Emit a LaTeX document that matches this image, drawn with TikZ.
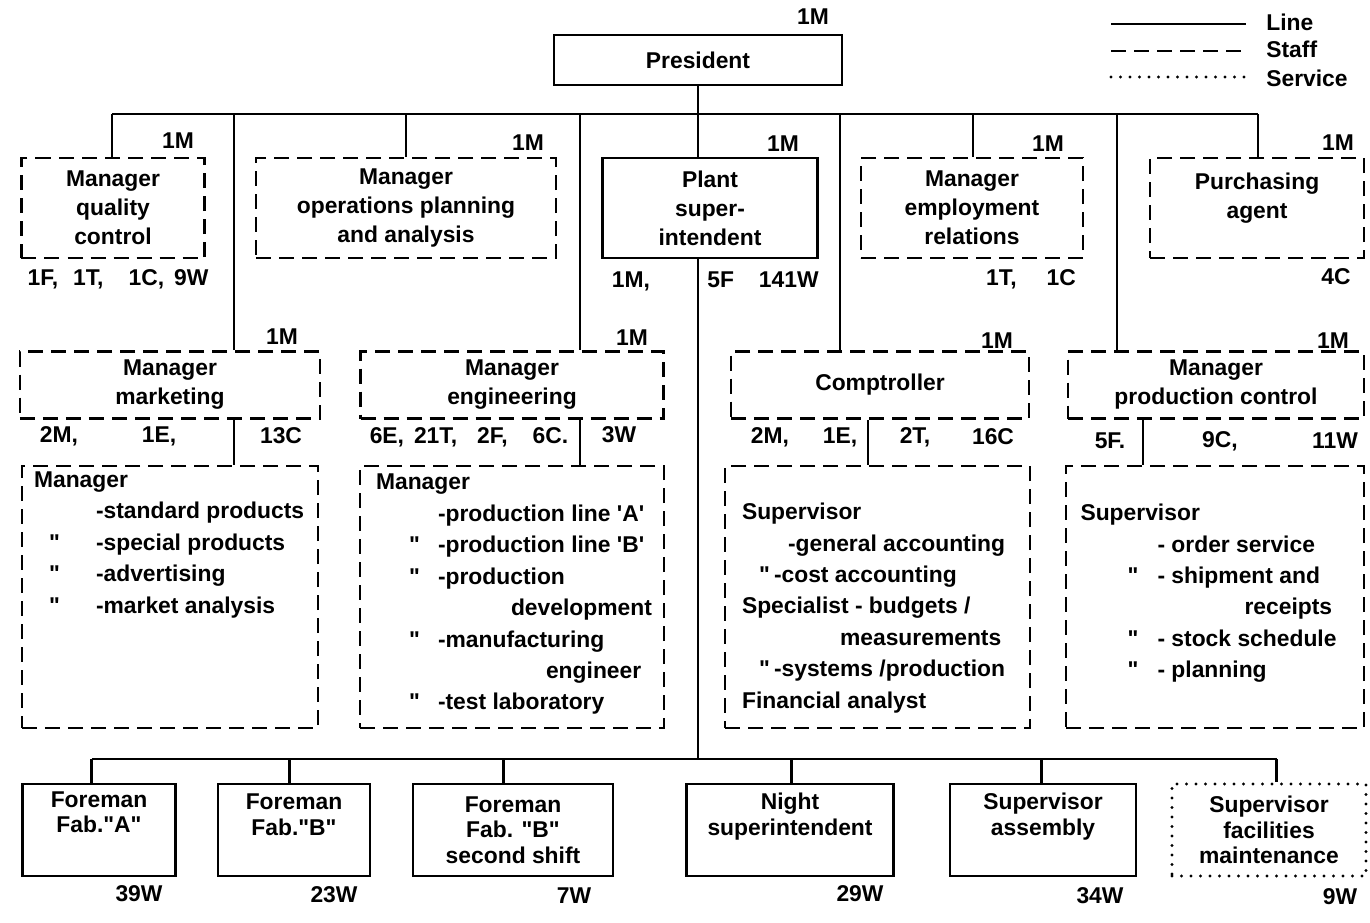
\documentclass[tikz,border=0pt]{standalone}
\usepackage{fontspec}
\setmainfont{Liberation Sans}
\usetikzlibrary{positioning}

% ditto marks in the lists, and box texts set higher than the middle
\newcommand{\dit}[2]{\hspace*{#1}\makebox[#2][l]{\textquotedbl}}
\newcommand{\lift}[2]{\raisebox{#1}[\height][\depth]{\begin{tabular}{@{}c@{}}#2\end{tabular}}}

\begin{document}
\begin{tikzpicture}[x=0.2mm, y=-0.2mm,
    every node/.style={font=\bfseries\fontsize{13}{16.5}\selectfont},
    staffdash/.style={dash pattern=on 3mm off 1.6mm},
    servicedots/.style={line width=1.9pt, line cap=round, dash pattern=on 0pt off 1.9mm},
    linebox/.style={draw, line width=1.5pt, align=center, inner sep=1pt},
    staffbox/.style={linebox, staffdash},
    rowone/.style={minimum height=20mm},
    rowtwo/.style={minimum height=13.4mm},
    listbox/.style={staffbox, minimum height=52.4mm},
    rowthree/.style={linebox, minimum height=18.4mm, font=\bfseries\fontsize{13}{14.5}\selectfont},
    listtext/.style={align=left, inner sep=0pt, font=\bfseries\fontsize{13}{17.9}\selectfont},
    num/.style={inner sep=0pt},
    conn/.style={line width=1.5pt}]

\path[use as bounding box, fill=white] (0,0) rectangle (1370,922);

% Legend
\node[num, anchor=west] (key-line) at (1266,22) {Line};
\node[num, anchor=west] (key-staff) at (1266,49) {Staff};
\node[num, anchor=west] (key-service) at (1266,78) {Service};
\coordinate (k1) at (1111,24);
\coordinate (k2) at (1111,51);
\coordinate (k3) at (1111,77);
\draw[conn, shorten >=4mm] (k1) -- (k1 -| key-line.west);
\draw[conn, staffdash, shorten >=4mm] (k2) -- (k2 -| key-staff.west);
\draw[conn, servicedots, shorten >=4mm] (k3) -- (k3 -| key-service.west);

% President
\node[linebox, minimum width=57.6mm, minimum height=10mm] (pres) at (698,60) {President};
\node[num] (pres-m) at (813,17) {1M};

% First row
\node[staffbox, rowone, minimum width=36.6mm] (qc) at (113,208) {Manager\\quality\\control};
\node[num] (qc-m) at (178,141) {1M};
\node[num] (qc-n) at (118,279) {1F,\hspace{3mm}1T,\hspace{5mm}1C,\hspace{2mm}9W};

\node[staffbox, rowone, minimum width=60mm] (ops) at (406,208) {Manager\\operations planning\\and analysis};
\node[num] (ops-m) at (528,143) {1M};

\node[linebox, rowone, minimum width=43mm] (plant) at (710,208) {Plant\\super-\\intendent};
\node[num] (plant-m) at (783,144) {1M};
\node[num] (plant-n1) at (631,281) {1M,};
\node[num] (plant-n2) at (763,280) {5F\hspace{5mm}141W};

\node[staffbox, rowone, minimum width=44.4mm] (emp) at (972,208) {Manager\\employment\\relations};
\node[num] (emp-m) at (1048,144) {1M};
\node[num] (emp-n) at (1031,279) {1T,\hspace{6mm}1C};

\node[staffbox, rowone, minimum width=42.8mm] (purch) at (1257,208) {\lift{2mm}{Purchasing\\agent}};
\node[num] (purch-m) at (1338,143) {1M};
\node[num] (purch-n) at (1336,277) {4C};

% Second row with their groups
\node[staffbox, rowtwo, minimum width=60mm] (mkt) at (170,385) {Manager\\marketing};
\node[num] (mkt-m) at (282,337) {1M};
\node[num] (mkt-n1) at (59,436) {2M,};
\node[num] (mkt-n2) at (159,436) {1E,};
\node[num] (mkt-n3) at (281,436) {13C};
\node[listbox, minimum width=59.2mm] (mktsub) at (170,597) {};
\node[listtext, below right=1.3mm and 2.6mm of mktsub.north west] (mkt-list) {%
  Manager\\
  \hspace*{12.4mm}-standard products\\
  \dit{3mm}{9.4mm}-special products\\
  \dit{3mm}{9.4mm}-advertising\\
  \dit{3mm}{9.4mm}-market analysis};

\node[staffbox, rowtwo, minimum width=60.6mm] (eng) at (512,385) {Manager\\engineering};
\node[num] (eng-m) at (632,338) {1M};
\node[num] (eng-n1) at (469,437) {6E,\hspace{2mm}21T,\hspace{4mm}2F,\hspace{5mm}6C.};
\node[num] (eng-n2) at (619,435) {3W};
\node[listbox, minimum width=60.8mm] (engsub) at (512,597) {};
\node[listtext, below right=1.8mm and 3.4mm of engsub.north west] (eng-list) {%
  Manager\\
  \hspace*{12.4mm}-production line \textquotesingle A\textquotesingle\\
  \dit{6.6mm}{5.8mm}-production line \textquotesingle B\textquotesingle\\
  \dit{6.6mm}{5.8mm}-production\\
  \hspace*{27mm}development\\
  \dit{6.6mm}{5.8mm}-manufacturing\\
  \hspace*{34mm}engineer\\
  \dit{6.6mm}{5.8mm}-test laboratory};

\node[staffbox, rowtwo, minimum width=59.6mm] (comp) at (880,385) {Comptroller};
\node[num] (comp-m) at (997,341) {1M};
\node[num] (comp-n1) at (770,437) {2M,};
\node[num] (comp-n2) at (840,437) {1E,};
\node[num] (comp-n3) at (915,437) {2T,};
\node[num] (comp-n4) at (993,437) {16C};
\node[listbox, minimum width=61mm] (compsub) at (877.5,597) {};
\node[listtext, below right=7.6mm and 3.6mm of compsub.north west] (comp-list) {%
  Supervisor\\
  \hspace*{9.2mm}-general accounting\\
  \dit{3.4mm}{3mm}-cost accounting\\
  Specialist - budgets /\\
  \hspace*{19.6mm}measurements\\
  \dit{3.4mm}{3mm}-systems /production\\
  Financial analyst};

\node[staffbox, rowtwo, minimum width=59.2mm] (pc) at (1216,385) {Manager\\production control};
\node[num] (pc-m) at (1333,341) {1M};
\node[num] (pc-n1) at (1110,441) {5F.};
\node[num] (pc-n2) at (1220,441) {9C,};
\node[num] (pc-n3) at (1335,441) {11W};
\node[listbox, minimum width=59.6mm] (pcsub) at (1215,597) {};
\node[listtext, below right=7.8mm and 3.1mm of pcsub.north west] (pc-list) {%
  Supervisor\\
  \hspace*{15.4mm}- order service\\
  \dit{9.4mm}{6mm}- shipment and\\
  \hspace*{32.8mm}receipts\\
  \dit{9.4mm}{6mm}- stock schedule\\
  \dit{9.4mm}{6mm}- planning};

% Bottom row
\node[rowthree, minimum width=30.6mm] (fa) at (99,830) {\lift{3mm}{Foreman\\Fab.\textquotedbl A\textquotedbl}};
\node[num] (fa-n) at (139,894) {39W};
\node[rowthree, minimum width=30.4mm] (fb) at (294,830) {\lift{2.5mm}{Foreman\\Fab.\textquotedbl B\textquotedbl}};
\node[num] (fb-n) at (334,895) {23W};
\node[rowthree, minimum width=40mm] (fb2) at (513,830) {Foreman\\Fab. \textquotedbl B\textquotedbl\\second shift};
\node[num] (fb2-n) at (574,896) {7W};
\node[rowthree, minimum width=41.4mm] (ns) at (790,830) {\lift{2.5mm}{Night\\superintendent}};
\node[num] (ns-n) at (860,894) {29W};
\node[rowthree, minimum width=37.2mm] (sa) at (1043,830) {\lift{2.5mm}{Supervisor\\assembly}};
\node[num] (sa-n) at (1100,896) {34W};
\node[rowthree, servicedots, minimum width=38.8mm] (fm) at (1269,830) {Supervisor\\facilities\\maintenance};
\node[num] (fm-n) at (1340,897) {9W};

% Lines from the president
\coordinate (bus) at (698,114);
\coordinate (d-qc) at (112,114);
\coordinate (d-mkt) at (234,114);
\coordinate (d-ops) at (406,114);
\coordinate (d-eng) at (580,114);
\coordinate (d-comp) at (840,114);
\coordinate (d-emp) at (973,114);
\coordinate (d-pc) at (1117,114);
\coordinate (d-pur) at (1258,114);
\draw[conn] (pres.south) -- (bus) -- (bus |- plant.north);
\draw[conn] (d-qc) -- (d-pur);
\draw[conn] (d-qc) -- (d-qc |- qc.north);
\draw[conn] (d-mkt) -- (d-mkt |- mkt.north);
\draw[conn] (d-ops) -- (d-ops |- ops.north);
\draw[conn] (d-eng) -- (d-eng |- eng.north);
\draw[conn] (d-comp) -- (d-comp |- comp.north);
\draw[conn] (d-emp) -- (d-emp |- emp.north);
\draw[conn] (d-pc) -- (d-pc |- pc.north);
\draw[conn] (d-pur) -- (d-pur |- purch.north);

% Managers to their groups
\coordinate (l-comp) at (868,438);
\coordinate (l-pc) at (1143,441);
\draw[conn] (mkt.south -| d-mkt) -- (mktsub.north -| d-mkt);
\draw[conn] (eng.south -| d-eng) -- (engsub.north -| d-eng);
\draw[conn] (comp.south -| l-comp) -- (compsub.north -| l-comp);
\draw[conn] (pc.south -| l-pc) -- (pcsub.north -| l-pc);

% Plant superintendent to the foremen
\coordinate (bbus) at (698,759);
\coordinate (d-fa) at (91.5,759);
\coordinate (d-fb) at (289.5,759);
\coordinate (d-fb2) at (503.5,759);
\coordinate (d-ns) at (791.5,759);
\coordinate (d-sa) at (1041.5,759);
\coordinate (d-fm) at (1276.5,759);
\draw[conn] (plant.south -| bbus) -- (bbus);
\draw[conn] (d-fa) -- (d-fm);
\draw[conn] (d-fa) -- (d-fa |- fa.north);
\draw[conn] (d-fb) -- (d-fb |- fb.north);
\draw[conn] (d-fb2) -- (d-fb2 |- fb2.north);
\draw[conn] (d-ns) -- (d-ns |- ns.north);
\draw[conn] (d-sa) -- (d-sa |- sa.north);
\draw[conn] (d-fm) -- (d-fm |- fm.north);
\end{tikzpicture}
\end{document}
